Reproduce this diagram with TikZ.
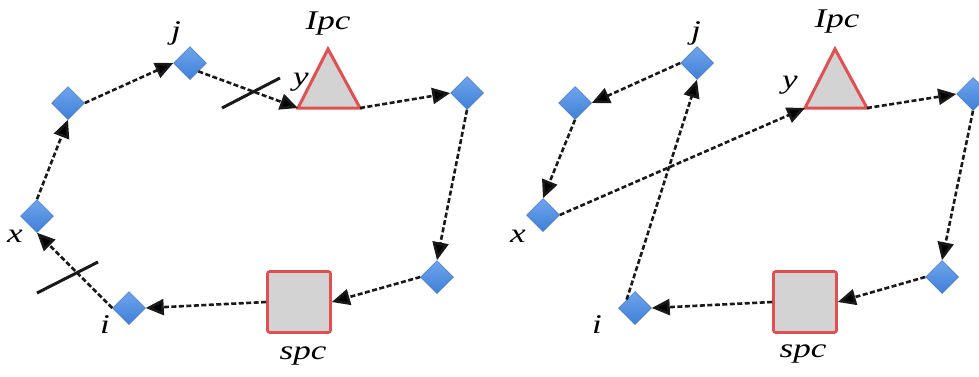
\documentclass[tikz,border=0pt]{standalone}
\usepackage{fontspec}
\setmainfont{Liberation Serif}
\usetikzlibrary{shapes.geometric,arrows.meta}
\definecolor{dblue}{HTML}{3F80D8}
\definecolor{dbluetop}{HTML}{6FA4EC}
\definecolor{dblueedge}{HTML}{3A70C0}
\definecolor{tred}{HTML}{E05050}
\definecolor{tgray}{HTML}{D3D3D3}
\tikzset{
  dnode/.style={diamond, aspect=1, inner sep=0pt, minimum width=33pt, minimum height=33pt,
    top color=dbluetop, bottom color=dblue, draw=dblueedge, line width=0.5pt},
  sqnode/.style={rectangle, inner sep=0pt, minimum width=63pt, minimum height=61pt,
    fill=tgray, draw=tred, line width=2.6pt, rounded corners=2pt},
  tri/.style={fill=tgray, draw=tred, line width=3pt, line join=miter},
  conn/.style={draw=black!90, line width=2.6pt, dash pattern=on 5pt off 2.5pt,
    -{Triangle[length=18pt,width=16pt,fill=black]}},
  lbl/.style={font=\fontsize{27}{27}\selectfont\itshape, inner sep=0pt, xscale=1.3},
  cut/.style={draw=black!90, line width=3pt},
}
\begin{document}
\begin{tikzpicture}[x=1pt,y=-1pt]
\useasboundingbox (0,0) rectangle (979,376);

% ---------------- left panel ----------------
\node[dnode] (Lj) at (190,63) {};
\node[dnode] (Llt) at (68,103) {};
\node[dnode] (Lx) at (37,216) {};
\node[dnode] (Li) at (129,308) {};
\node[dnode] (Lrt) at (467,93) {};
\node[dnode] (Lrb) at (437,277) {};
\node[sqnode] (Lsq) at (299,302) {};
\coordinate (LtA) at (328,49);
\coordinate (LtL) at (298,108);
\coordinate (LtR) at (360,108);
\path[tri] (LtA) -- (LtR) -- (LtL) -- cycle;

\node[lbl] (Ljl) at (176,33) {j};
\node[lbl] (LIpc) at (328,24) {Ipc};
\node[lbl] (Lyl) at (301,82) {y};
\node[lbl] (Lxl) at (15,236) {x};
\node[lbl] (Lil) at (105,325) {i};
\node[lbl] (Lspc) at (303,356) {spc};

\draw[conn] (Lx.north) -- (Llt.south);
\draw[conn] (Llt.east) -- (Lj.west);
\draw[conn] (Lj.south east) -- (LtL);
\draw[conn] (LtR) -- (Lrt.west);
\draw[conn] (Lrt.south) -- (Lrb.north);
\draw[conn] (Lrb.west) -- (Lsq.east);
\draw[conn] (Lsq.west) -- (Li.east);
\draw[conn] (Li.west) -- (Lx.south);

\coordinate (Lc1a) at (222,108);
\coordinate (Lc1b) at (280,78);
\coordinate (Lc2a) at (37,293);
\coordinate (Lc2b) at (98,262);
\draw[cut] (Lc1a) -- (Lc1b);
\draw[cut] (Lc2a) -- (Lc2b);

% ---------------- right panel ----------------
\node[dnode] (Rj) at (697,63) {};
\node[dnode] (Rlt) at (575,103) {};
\node[dnode] (Rx) at (543,215) {};
\node[dnode] (Ri) at (635,308) {};
\node[dnode] (Rrt) at (973,94) {};
\node[dnode] (Rrb) at (942,277) {};
\node[sqnode] (Rsq) at (805,302) {};
\coordinate (RtA) at (835,49);
\coordinate (RtL) at (805,108);
\coordinate (RtR) at (867,108);
\path[tri] (RtA) -- (RtR) -- (RtL) -- cycle;

\node[lbl] (Rjl) at (696,33) {j};
\node[lbl] (RIpc) at (837,22) {Ipc};
\node[lbl] (Ryl) at (790,85) {y};
\node[lbl] (Rxl) at (518,236) {x};
\node[lbl] (Ril) at (597,325) {i};
\node[lbl] (Rspc) at (803,354) {spc};

\draw[conn] (Rj.west) -- (Rlt.east);
\draw[conn] (Rlt.south) -- (Rx.north);
\draw[conn] (Rx.east) -- (RtL);
\draw[conn] (RtR) -- (Rrt.west);
\draw[conn] (Rrt.south) -- (Rrb.north);
\draw[conn] (Rrb.west) -- (Rsq.east);
\draw[conn] (Rsq.west) -- (Ri.east);
\draw[conn] (Ri.north west) -- (Rj.south);
\end{tikzpicture}
\end{document}
